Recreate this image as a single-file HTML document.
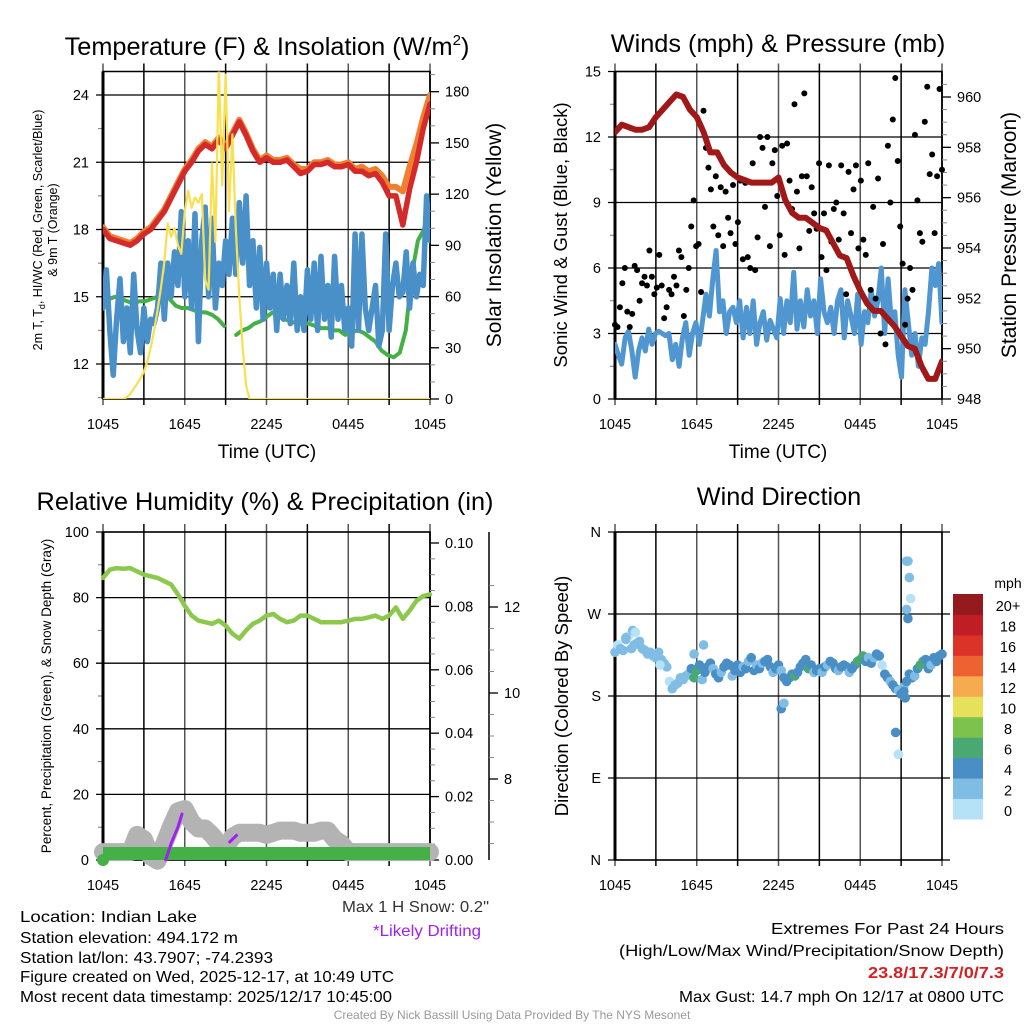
<!DOCTYPE html>
<html><head><meta charset="utf-8"><style>
html,body{margin:0;padding:0;background:#fff;}
svg{display:block;font-family:"Liberation Sans",Arial,sans-serif;}
</style></head><body>
<svg id="chart" width="1024" height="1024" viewBox="0 0 1024 1024" xmlns="http://www.w3.org/2000/svg">
<rect x="0" y="0" width="1024" height="1024" fill="#fff"/>
<g id="layer"></g>
<text x="267" y="55" font-size="25.3" text-anchor="middle">Temperature (F) &amp; Insolation (W/m<tspan font-size="15" dy="-10">2</tspan><tspan dy="10">)</tspan></text>
<text x="778" y="52" font-size="25.3" text-anchor="middle">Winds (mph) &amp; Pressure (mb)</text>
<text x="265" y="510" font-size="25.3" text-anchor="middle">Relative Humidity (%) &amp; Precipitation (in)</text>
<text x="779" y="505" font-size="25.3" text-anchor="middle">Wind Direction</text>
<text x="267" y="458" font-size="19" text-anchor="middle">Time (UTC)</text>
<text x="778" y="458" font-size="19" text-anchor="middle">Time (UTC)</text>
<g transform="translate(42,230) rotate(-90)">
<text x="0" y="0" font-size="12.5" text-anchor="middle">2m T, T<tspan font-size="9" dy="3">d</tspan><tspan dy="-3">, HI/WC (Red, Green, Scarlet/Blue)</tspan></text>
<text x="0" y="15" font-size="12.5" text-anchor="middle">&amp; 9m T (Orange)</text>
</g>
<text transform="translate(501,235) rotate(-90)" font-size="21" text-anchor="middle">Solar Insolation (Yellow)</text>
<text transform="translate(567,235) rotate(-90)" font-size="18.5" text-anchor="middle">Sonic Wind &amp; Gust (Blue, Black)</text>
<text transform="translate(1016,235) rotate(-90)" font-size="21" text-anchor="middle">Station Pressure (Maroon)</text>
<text transform="translate(51,696) rotate(-90)" font-size="13.5" text-anchor="middle">Percent, Precipitation (Green), &amp; Snow Depth (Gray)</text>
<text transform="translate(568,696) rotate(-90)" font-size="18.5" text-anchor="middle">Direction (Colored By Speed)</text>
<text x="1008" y="588" font-size="14" text-anchor="middle">mph</text>
<g font-size="16" fill="#000">
<text x="20" y="922" textLength="177" lengthAdjust="spacingAndGlyphs">Location: Indian Lake</text>
<text x="20" y="943" textLength="218" lengthAdjust="spacingAndGlyphs">Station elevation: 494.172 m</text>
<text x="20" y="963" textLength="253" lengthAdjust="spacingAndGlyphs">Station lat/lon: 43.7907; -74.2393</text>
<text x="20" y="982" textLength="374" lengthAdjust="spacingAndGlyphs">Figure created on Wed, 2025-12-17, at 10:49 UTC</text>
<text x="20" y="1002" textLength="372" lengthAdjust="spacingAndGlyphs">Most recent data timestamp: 2025/12/17 10:45:00</text>
<text x="489" y="912" text-anchor="end" fill="#333" textLength="147" lengthAdjust="spacingAndGlyphs">Max 1 H Snow: 0.2"</text>
<text x="427" y="936" text-anchor="middle" fill="#a020f0" textLength="108" lengthAdjust="spacingAndGlyphs">*Likely Drifting</text>
<text x="1004" y="934" text-anchor="end" textLength="233" lengthAdjust="spacingAndGlyphs">Extremes For Past 24 Hours</text>
<text x="1004" y="956" text-anchor="end" textLength="385" lengthAdjust="spacingAndGlyphs">(High/Low/Max Wind/Precipitation/Snow Depth)</text>
<text x="1004" y="978" text-anchor="end" fill="#d42020" font-weight="bold" textLength="136" lengthAdjust="spacingAndGlyphs">23.8/17.3/7/0/7.3</text>
<text x="1004" y="1002" text-anchor="end" textLength="325" lengthAdjust="spacingAndGlyphs">Max Gust: 14.7 mph On 12/17 at 0800 UTC</text>
</g>
<text x="512" y="1019" font-size="12" text-anchor="middle" fill="#999">Created By Nick Bassill Using Data Provided By The NYS Mesonet</text>
</svg>
<script>
// ---- data ----
const timeTickLabels = ["1045","1645","2245","0445","1045"];
const tempRed = [18.0,17.6,17.5,17.4,17.3,17.5,17.8,18.0,18.4,18.8,19.4,20.0,20.6,21.0,21.5,21.8,21.6,22.0,21.6,22.2,22.8,22.2,21.5,21.0,21.2,21.0,21.0,21.1,20.8,20.5,20.6,20.9,20.9,21.0,20.8,20.8,20.9,20.6,20.6,20.4,20.5,20.1,19.5,19.5,18.2,19.8,21.0,22.5,23.6];
const tempOrange = [18.1,17.7,17.6,17.5,17.4,17.6,17.9,18.1,18.5,18.9,19.5,20.1,20.7,21.1,21.6,21.9,21.7,22.1,21.7,22.3,22.9,22.3,21.6,21.1,21.3,21.1,21.1,21.2,20.9,20.7,20.7,21.0,21.0,21.1,20.9,20.9,21.0,20.7,20.8,20.6,20.7,20.4,19.9,19.9,19.7,20.8,21.8,23.0,24.0];
const tempBlue = [14.5,16.2,13.5,11.5,14.0,15.8,13.0,14.5,12.5,16.0,13.5,12.5,14.5,13.0,14.0,13.8,14.5,16.5,14.0,16.5,15.0,17.0,15.5,18.8,15.0,17.5,14.5,18.7,13.0,17.5,19.0,15.0,18.5,14.5,16.5,15.5,17.5,16.0,18.5,16.0,19.2,16.5,19.5,15.5,17.5,14.5,17.2,14.0,16.5,14.5,16.0,13.5,16.0,14.0,15.5,13.8,16.5,13.5,15.0,13.5,16.2,14.0,16.5,13.5,16.8,14.0,15.5,13.2,16.8,14.0,15.5,13.5,14.5,12.8,17.8,13.5,17.8,14.5,13.5,14.5,15.5,12.8,13.5,17.8,13.5,15.5,16.5,15.0,15.2,17.0,14.5,16.5,15.0,16.0,15.5,19.5,17.5];
const tempGreen = [14.8,14.9,15.0,14.9,14.8,14.7,14.8,14.8,14.9,15.0,15.1,14.9,14.6,14.5,14.5,14.4,14.3,14.3,14.2,14.0,13.7,null,13.3,13.5,13.6,13.8,13.9,14.1,14.3,14.1,14.0,13.9,13.8,13.8,13.8,13.7,13.6,13.6,13.5,13.5,13.3,13.4,13.5,13.4,13.2,13.0,12.6,12.4,12.3,12.5,13.5,16.0,17.5,18.0,19.0];
const solar = [0,0,0,0,0,0,0,1,3,6,9,12,16,22,30,40,52,65,80,103,95,100,90,85,110,122,112,118,115,120,70,64,138,92,196,125,190,110,155,100,60,30,8,0,0,0,0,0,0,0,0,0,0,0,0,0,0,0,0,0,0,0,0,0,0,0,0,0,0,0,0,0,0,0,0,0,0,0,0,0,0,0,0,0,0,0,0,0,0,0,0,0,0,0,0,0,0];
const windSpeed = [2.5,2.0,1.6,2.8,3.1,2.2,1.0,2.2,2.8,2.2,3.2,2.5,3.0,3.1,3.0,2.9,3.0,1.8,2.5,1.5,2.8,3.5,2.0,3.0,3.5,2.5,3.6,4.8,3.8,5.5,6.8,4.0,4.5,3.0,4.0,4.2,3.5,4.5,2.8,4.2,3.0,4.5,2.5,3.5,4.0,2.7,3.6,3.2,2.8,4.6,3.0,4.5,3.5,5.8,3.2,4.5,3.3,5.0,3.8,4.5,3.0,5.5,4.0,3.5,4.2,3.0,4.5,5.0,2.8,4.5,3.8,3.0,4.8,2.5,4.0,3.5,5.0,3.8,4.5,6.0,3.0,5.5,3.5,4.0,2.0,1.0,5.0,3.5,2.0,3.0,1.5,2.8,2.5,4.0,6.0,5.2,6.2,3.5];
const windGust = [3.4,3.3,4.2,5.3,6.0,4.0,3.3,3.9,6.1,5.9,4.5,5.3,5.6,5.2,6.8,5.6,4.8,5.1,6.6,5.2,3.7,4.2,5.0,4.8,5.6,5.2,6.8,6.5,3.8,5.0,6.0,7.9,9.1,7.0,7.1,4.9,13.2,11.5,10.6,9.6,7.9,10.2,7.5,9.7,7.0,9.5,8.3,7.6,9.8,7.1,8.1,10.0,6.4,9.9,6.5,6.0,10.8,5.9,7.4,12.0,11.5,8.8,12.0,7.0,10.8,11.4,9.3,7.5,11.6,6.6,11.7,10.0,8.7,13.5,9.5,6.9,10.2,14.0,10.2,7.7,9.7,8.5,7.8,10.8,6.5,8.5,5.9,10.7,7.2,8.7,9.0,7.3,10.7,8.5,4.8,10.4,7.6,9.6,10.7,6.9,10.0,7.3,6.6,10.8,5.0,8.8,4.6,10.1,3.0,7.1,2.5,11.6,9.0,12.8,14.7,10.9,7.9,6.2,3.4,4.6,6.0,5.0,12.1,9.1,7.6,7.2,12.7,14.3,10.3,11.2,7.6,10.2,14.2,10.5];
const pressure = [958.6,958.9,958.8,958.7,958.7,958.8,959.2,959.5,959.8,960.1,960.0,959.5,959.2,958.6,957.8,957.8,957.3,957.0,956.8,956.7,956.6,956.6,956.6,956.6,956.8,955.9,955.4,955.2,955.2,955.0,954.8,954.7,954.2,953.7,953.6,952.9,952.3,951.8,951.5,951.5,951.2,950.9,950.5,950.1,950.0,949.3,948.8,948.8,949.5];
const rh = [86,88.5,89,88.8,89,88,87,86.5,86,85,84,81,77.5,74.5,73,72.5,72,73,71.5,69,67.5,70,72,73,74.5,75,73.5,72.5,73,74.5,74.5,73.5,72.5,72.5,72.5,72.5,73,73.5,73.5,74,74.5,73.5,74.5,77,73.5,76,79,80.5,81];
const precip = [0,0,0,0,0,0,0,0,0,0,0,0,0,0,0,0,0,0,0,0,0,0,0,0,0,0,0,0,0,0,0,0,0,0,0,0,0,0,0,0,0,0,0,0,0,0,0,0,0];
const snowDepth = [6.3,6.3,6.3,6.3,6.3,6.7,6.6,6.2,6.1,6.5,6.9,7.25,7.3,7.0,6.85,6.85,6.7,6.5,6.4,6.65,6.75,6.75,6.75,6.75,6.7,6.75,6.8,6.8,6.8,6.75,6.75,6.75,6.8,6.8,6.6,6.5,6.3,6.3,6.3,6.3,6.3,6.3,6.3,6.3,6.3,6.3,6.3,6.3,6.3];
const snowfallHours = [[4.6,5.0,5.5,5.8],[9.3,9.55,9.8]];
const snowfallPct = [[0,5,10,14],[5.5,6.5,7.5]];
const dirHours = [0,0.2,0.4,0.6,0.8,1.0,1.2,1.4,1.6,1.8,2.0,2.2,2.4,2.6,2.8,3.0,3.2,3.4,3.6,3.8,4.0,4.2,4.4,4.6,4.8,5.0,5.2,5.4,5.6,5.8,6.0,6.2,6.4,6.6,6.8,7.0,7.2,7.4,7.6,7.8,8.0,8.2,8.4,8.6,8.8,9.0,9.2,9.4,9.6,9.8,10.0,10.2,10.4,10.6,10.8,11.0,11.2,11.4,11.6,11.8,12.0,12.2,12.4,12.6,12.8,13.0,13.2,13.4,13.6,13.8,14.0,14.2,14.4,14.6,14.8,15.0,15.2,15.4,15.6,15.8,16.0,16.2,16.4,16.6,16.8,17.0,17.2,17.4,17.6,17.8,18.0,18.2,18.4,18.6,18.8,19.0,19.2,19.4,19.6,19.8,20.0,20.2,20.4,20.6,20.8,21.0,21.2,21.4,21.6,21.8,22.0,22.2,22.4,22.6,22.8,23.0,23.2,23.4,23.6,23.8,24.0,0.8,1.3,1.5,3.3,5.8,6.5,12.2,12.4,20.6,20.8,21.2,21.3,21.4,21.5,21.6,21.7,21.4,21.5];
const dirDeg = [228,236,232,230,242,246,232,236,238,240,232,230,226,228,224,222,228,220,216,212,196,188,192,194,200,198,202,204,210,200,208,214,198,206,212,216,210,204,200,206,212,216,214,202,208,214,206,212,210,218,222,208,214,210,216,218,220,212,206,210,214,208,200,196,200,204,202,206,212,216,220,210,214,206,208,210,206,212,214,218,216,210,208,212,214,212,206,210,214,218,220,224,218,222,216,222,226,224,214,204,200,196,192,188,186,182,190,196,204,200,202,210,214,218,220,210,214,222,218,224,226,244,252,250,214,226,236,166,172,140,116,185,178,328,328,310,287,275,265];
const dirSpeed = [2.5,1.5,2.5,2.5,3.5,0.5,2.5,3.5,2.5,3,2.5,2.5,3,2.5,2.5,2.5,2,3,2,2,1.5,2,2.5,2.5,3,2.5,3.5,2.5,4.5,7,6.5,4.5,2.5,4.5,5,4.5,3,4.5,4.5,3,4.5,5,4.5,3,4.5,4.5,5,3,4.5,3,4.5,5,2.5,4.5,3,4.5,5,4.5,3,4.5,4.5,2.5,4.5,5,4.5,4.5,6.5,4.5,5,4.5,4.5,7,4.5,2.5,4.5,4.5,3,4.5,2.5,4.5,5,4.5,3,4.5,5,4.5,3,5,4.5,6.5,7,7,4.5,2.5,5,3,4.5,5,1,4.5,5,3,4.5,5,3,4.5,2.5,4.5,5,4.5,3,4.5,6.5,7,5,4.5,3,4.5,4.5,5,5,2.5,2.5,1,1.5,3,2.5,4.5,3,4.5,0.5,4,4.5,3,3,2.5,0.5,3,4.5];
const colorbarLabels = ["0","2","4","6","8","10","12","14","16","18","20+"];
const colorbarColors = ["#b5e2f7","#80bde5","#4a8ec6","#4aa873","#7dc24d","#e6e05a","#f5ab4e","#ee6131","#dc3328","#be1e24","#951a1d"];

// ---- helpers ----
const NS="http://www.w3.org/2000/svg";
const layer=document.getElementById('layer');
function mk(tag,attrs,parent){const e=document.createElementNS(NS,tag);for(const k in attrs)e.setAttribute(k,attrs[k]);(parent||layer).appendChild(e);return e;}
function lin(d0,d1,r0,r1){return v=>r0+(v-d0)/(d1-d0)*(r1-r0);}
function idxHours(arr){return arr.map((_,i)=>i*24/(arr.length-1));}
function pathFrom(hours,vals,xs,ys){let d="",pen=false;for(let i=0;i<vals.length;i++){if(vals[i]===null){pen=false;continue;}d+=(pen?"L":"M")+xs(hours[i]).toFixed(1)+","+ys(vals[i]).toFixed(1);pen=true;}return d;}

function frame(x0,x1,y0,y1,name,gridVals,ys,labels,leftTicksMinor){
  const g=mk('g',{});
  
  
  const xs=lin(0,24,x0,x1);
  for(let h=0;h<=24;h+=3){
    const l=mk('line',{x1:xs(h),x2:xs(h),y1:y0-8,y2:y1+6,stroke:(h%6==3?'#000':'#555'),'stroke-width':1.5},g);
    
    
  }
  gridVals.forEach((v,i)=>{
    const l=mk('line',{x1:x0-7,x2:x1,y1:ys(v),y2:ys(v),stroke:'#000','stroke-width':1.3},g);
    
    
    const t=mk('text',{x:x0-14,y:ys(v)+5,'font-size':14.5,'text-anchor':'end'},g);
    t.textContent=labels[i];
    
    
  });
  (leftTicksMinor||[]).forEach(v=>{
    const l=mk('line',{x1:x0-5,x2:x0,y1:ys(v),y2:ys(v),stroke:'#777','stroke-width':1},g);
    
    
  });
  mk('rect',{x:x0,y:y0,width:x1-x0,height:y1-y0,fill:'none',stroke:'#000','stroke-width':1.5},g);
  mk('line',{x1:x0,x2:x0,y1:y0,y2:y1,stroke:'#000','stroke-width':3},g);
  timeTickLabels.forEach((s,i)=>{
    const t=mk('text',{x:xs(i*6),y:y1+30,'font-size':14.5,'text-anchor':'middle'},g);
    t.textContent=s;
    
    
  });
  return xs;
}
function rightAxis(x,ys,majors,minors,labels,name,y0,y1){
  const g=mk('g',{});
  
  
  mk('line',{x1:x,x2:x,y1:y0,y2:y1,stroke:'#000','stroke-width':1.5},g);
  minors.forEach(v=>{mk('line',{x1:x,x2:x+5,y1:ys(v),y2:ys(v),stroke:'#888','stroke-width':1},g);});
  majors.forEach((v,i)=>{
    mk('line',{x1:x,x2:x+9,y1:ys(v),y2:ys(v),stroke:'#000','stroke-width':1.3},g);
    const t=mk('text',{x:x+15,y:ys(v)+5,'font-size':14.5},g);
    t.textContent=labels[i];
    
    
  });
}
function line(d,color,w,name,extra){
  const p=mk('path',Object.assign({d:d,fill:'none',stroke:color,'stroke-width':w,'stroke-linejoin':'round','stroke-linecap':'round'},extra||{}));
  
  
  return p;
}

// ---- Panel 1: temperature ----
(function(){
  const x0=103,x1=430,y0=71.5,y1=399;
  const ys=lin(24,12,95,364);
  const ysR=lin(0,180,399,91.7);
  const minors=[];for(let v=10.5;v<=25;v+=1.5)if(v%3!==0&&ys(v)>y0&&ys(v)<y1)minors.push(v);
  const xs=frame(x0,x1,y0,y1,'temp',[12,15,18,21,24],ys,["12","15","18","21","24"],minors);
  const rmin=[];for(let v=10;v<=190;v+=10)if(v%30)rmin.push(v);
  rightAxis(x1,ysR,[0,30,60,90,120,150,180],rmin,["0","30","60","90","120","150","180"],'insolation-axis',y0,y1);
  const clip=mk('clipPath',{id:'c1'});mk('rect',{x:x0,y:y0,width:x1-x0,height:y1-y0},clip);
  line(pathFrom(idxHours(tempOrange),tempOrange,xs,ys),'#f08030',6,'temp-9m-line',{'clip-path':'url(#c1)'});
  line(pathFrom(idxHours(tempRed),tempRed,xs,ys),'#d42a2a',5.5,'temp-2m-line',{'clip-path':'url(#c1)'});
  line(pathFrom(idxHours(tempGreen),tempGreen,xs,ys),'#45b045',4,'dewpoint-line',{'clip-path':'url(#c1)'});
  line(pathFrom(idxHours(tempBlue),tempBlue,xs,ys),'#4a90c8',5.5,'wind-chill-line',{'clip-path':'url(#c1)'});
  line(pathFrom(idxHours(solar),solar,xs,ysR),'#f8e050',2.2,'insolation-line',{'clip-path':'url(#c1)'});
})();

// ---- Panel 2: winds ----
(function(){
  const x0=615,x1=942,y0=71.5,y1=399;
  const ys=lin(0,15,399,71.5);
  const ysR=lin(948,960,399,97);
  const minors=[1.5,4.5,7.5,10.5,13.5];
  const xs=frame(x0,x1,y0,y1,'wind',[0,3,6,9,12,15],ys,["0","3","6","9","12","15"],minors);
  const rmin=[];for(let v=948.5;v<961;v+=0.5)if(v%2)rmin.push(v);
  rightAxis(x1,ysR,[948,950,952,954,956,958,960],rmin,["948","950","952","954","956","958","960"],'pressure-axis',y0,y1);
  const clip=mk('clipPath',{id:'c2'});mk('rect',{x:x0,y:y0,width:x1-x0,height:y1-y0},clip);
  line(pathFrom(idxHours(windSpeed),windSpeed,xs,ys),'#5096d0',5,'sonic-wind-line',{'clip-path':'url(#c2)'});
  const gh=idxHours(windGust);
  windGust.forEach((v,i)=>{
    const c=mk('circle',{cx:xs(gh[i]),cy:ys(v),r:3,fill:'#000'});
    
    
  });
  line(pathFrom(idxHours(pressure),pressure,xs,ysR),'#a01818',6,'pressure-line',{'clip-path':'url(#c2)'});
})();

// ---- Panel 3: RH ----
(function(){
  const x0=103,x1=430,y0=532,y1=860;
  const ys=lin(0,100,860,532);
  const ysP=lin(0,0.10,860,543);
  const ysS=lin(8,12,779,607);
  const xs=frame(x0,x1,y0,y1,'rh',[0,20,40,60,80,100],ys,["0","20","40","60","80","100"],[10,30,50,70,90]);
  const pmin=[];for(let i=1;i<=20;i++)if(i%4)pmin.push(i*0.005);
  rightAxis(x1,ysP,[0,0.02,0.04,0.06,0.08,0.10],pmin,["0.00","0.02","0.04","0.06","0.08","0.10"],'precip-axis',y0,y1);
  const g=mk('g',{});
  
  
  mk('line',{x1:489,x2:489,y1:532,y2:860,stroke:'#000','stroke-width':1.5},g);
  [6.5,7,7.5,8.5,9,9.5,10.5,11,11.5,12.5].forEach(v=>mk('line',{x1:489,x2:494,y1:ysS(v),y2:ysS(v),stroke:'#888'},g));
  [8,10,12].forEach(v=>{mk('line',{x1:489,x2:498,y1:ysS(v),y2:ysS(v),stroke:'#000','stroke-width':1.3},g);
    const t=mk('text',{x:504,y:ysS(v)+5,'font-size':14.5},g);t.textContent=String(v);
    
    });
  const clip=mk('clipPath',{id:'c3'});mk('rect',{x:x0-12,y:y0,width:x1-x0+24,height:y1-y0+12},clip);
  line(pathFrom(idxHours(snowDepth),snowDepth,xs,ysS),'#b3b3b3',18,'snow-depth-line',{'clip-path':'url(#c3)'});
  line(pathFrom(idxHours(precip),precip,xs,ysP),'#45b045',13,'precip-line',{transform:'translate(0,-6.5)','stroke-linecap':'butt'});
  const dot=mk('circle',{cx:xs(0),cy:ys(0),r:6,fill:'#45b045'});
  
  
  snowfallHours.forEach((hs,k)=>{line(pathFrom(hs,snowfallPct[k],xs,ys),'#a020f0',3,'snowfall-segment');});
  line(pathFrom(idxHours(rh),rh,xs,ys),'#8cc84b',4.5,'rh-line');
})();

// ---- Panel 4: wind direction ----
(function(){
  const x0=615,x1=942,y0=532,y1=860;
  const ys=lin(0,360,860,532);
  const xs=frame(x0,x1,y0,y1,'direction',[0,90,180,270,360],ys,["N","E","S","W","N"],[]);
  [0,90,180,270,360].forEach(v=>mk('line',{x1:x1,x2:x1+8,y1:ys(v),y2:ys(v),stroke:'#000','stroke-width':1.3}));
  function col(s){let i=Math.floor(s/2);if(i<0)i=0;if(i>10)i=10;return colorbarColors[i];}
  dirHours.forEach((h,i)=>{
    const c=mk('circle',{cx:xs(h),cy:ys(dirDeg[i]),r:4.8,fill:col(dirSpeed[i])});
    
    
  });
  const cb=mk('g',{});
  
  
  const cbTop=594,cbBot=819,n=colorbarColors.length,h=(cbBot-cbTop)/n;
  colorbarColors.forEach((c,i)=>{
    const r=mk('rect',{x:953,y:cbBot-(i+1)*h,width:30,height:h+0.5,fill:c},cb);
    
    
    const t=mk('text',{x:1008,y:cbBot-(i+1)*h+h/2+13-6,'font-size':14.5,'text-anchor':'middle'},cb);
    t.textContent=colorbarLabels[i];
    
    
  });
})();
</script>
</body></html>
